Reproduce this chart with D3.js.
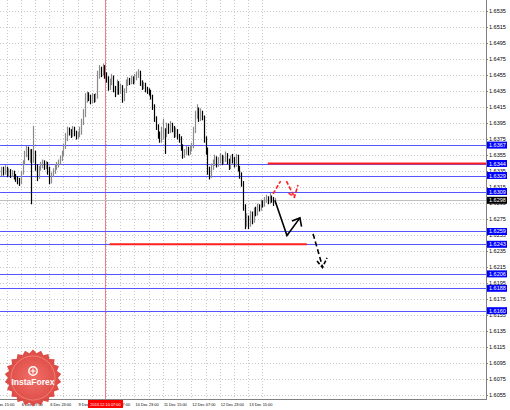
<!DOCTYPE html>
<html><head><meta charset="utf-8">
<script src="https://cdn.jsdelivr.net/npm/d3@7"></script>
<style>body{margin:0;background:#fff}svg{display:block}</style>
</head><body>
<script>
// ---- data (H1 bars) ----
const firstBarTime = "2013-12-05T20:00";
const closes = [1.6336,1.6333,1.6338,1.6331,1.6335,1.6330,1.6333,1.6328,1.6325,1.6322,
1.6320,1.6332,1.6345,1.6356,1.6362,1.6352,1.6358,1.6350,1.6357,1.6340,
1.6328,1.6338,1.6342,1.6345,1.6340,1.6343,1.6338,1.6322,1.6330,1.6334,
1.6340,1.6342,1.6345,1.6350,1.6356,1.6365,1.6375,1.6385,1.6384,1.6380,
1.6387,1.6382,1.6378,1.6380,1.6384,1.6395,1.6405,1.6425,1.6430,1.6426,
1.6422,1.6428,1.6424,1.6427,1.6455,1.6462,1.6458,1.6465,1.6455,1.6450,
1.6440,1.6446,1.6452,1.6438,1.6432,1.6445,1.6435,1.6440,1.6425,1.6435,
1.6445,1.6448,1.6446,1.6450,1.6447,1.6452,1.6455,1.6458,1.6445,1.6440,
1.6442,1.6437,1.6435,1.6433,1.6428,1.6415,1.6400,1.6390,1.6380,1.6375,
1.6378,1.6385,1.6380,1.6390,1.6385,1.6392,1.6388,1.6380,1.6385,1.6378,
1.6375,1.6365,1.6355,1.6358,1.6362,1.6358,1.6363,1.6366,1.6385,1.6405,
1.6410,1.6400,1.6408,1.6402,1.6375,1.6362,1.6335,1.6328,1.6340,1.6345,
1.6350,1.6343,1.6348,1.6352,1.6346,1.6350,1.6355,1.6347,1.6340,1.6350,
1.6348,1.6343,1.6352,1.6338,1.6330,1.6320,1.6290,1.6270,1.6275,1.6268,
1.6280,1.6272,1.6285,1.6282,1.6290,1.6288,1.6295,1.6292,1.6298,1.6300,
1.6296,1.6302,1.6299,1.6295,1.6298];
const highs = [1.6340,1.6340,1.6342,1.6340,1.6338,1.6337,1.6336,1.6335,1.6331,1.6328,
1.6326,1.6335,1.6348,1.6360,1.6366,1.6365,1.6362,1.6362,1.6391,1.6360,
1.6343,1.6341,1.6346,1.6349,1.6348,1.6347,1.6346,1.6340,1.6333,1.6338,
1.6343,1.6346,1.6349,1.6354,1.6360,1.6369,1.6382,1.6390,1.6389,1.6387,
1.6391,1.6390,1.6385,1.6384,1.6390,1.6400,1.6412,1.6432,1.6434,1.6433,
1.6430,1.6432,1.6431,1.6432,1.6460,1.6467,1.6465,1.6469,1.6467,1.6458,
1.6453,1.6450,1.6456,1.6454,1.6441,1.6449,1.6447,1.6444,1.6442,1.6438,
1.6449,1.6452,1.6451,1.6454,1.6453,1.6456,1.6459,1.6462,1.6460,1.6448,
1.6446,1.6445,1.6440,1.6438,1.6436,1.6430,1.6418,1.6403,1.6393,1.6384,
1.6390,1.6400,1.6388,1.6395,1.6394,1.6397,1.6395,1.6391,1.6389,1.6387,
1.6381,1.6378,1.6368,1.6362,1.6366,1.6365,1.6367,1.6370,1.6390,1.6410,
1.6418,1.6414,1.6413,1.6410,1.6404,1.6378,1.6364,1.6340,1.6344,1.6349,
1.6355,1.6353,1.6352,1.6357,1.6355,1.6354,1.6359,1.6357,1.6350,1.6354,
1.6356,1.6352,1.6356,1.6355,1.6341,1.6333,1.6322,1.6293,1.6282,1.6279,
1.6285,1.6284,1.6289,1.6290,1.6294,1.6293,1.6299,1.6298,1.6302,1.6305,
1.6303,1.6307,1.6304,1.6302,1.6301];
const lows = [1.6328,1.6329,1.6330,1.6327,1.6328,1.6326,1.6327,1.6324,1.6321,1.6318,
1.6316,1.6318,1.6330,1.6342,1.6352,1.6348,1.6345,1.6293,1.6345,1.6335,
1.6322,1.6325,1.6335,1.6338,1.6336,1.6337,1.6330,1.6318,1.6319,1.6327,
1.6331,1.6336,1.6339,1.6342,1.6347,1.6353,1.6362,1.6372,1.6379,1.6376,
1.6377,1.6378,1.6374,1.6375,1.6377,1.6380,1.6392,1.6402,1.6420,1.6422,
1.6418,1.6419,1.6420,1.6421,1.6425,1.6450,1.6452,1.6454,1.6450,1.6445,
1.6435,1.6436,1.6442,1.6433,1.6427,1.6430,1.6430,1.6431,1.6420,1.6422,
1.6432,1.6441,1.6442,1.6443,1.6443,1.6444,1.6448,1.6451,1.6441,1.6436,
1.6437,1.6433,1.6431,1.6429,1.6424,1.6411,1.6396,1.6386,1.6375,1.6370,
1.6370,1.6374,1.6356,1.6377,1.6381,1.6382,1.6383,1.6376,1.6377,1.6374,
1.6370,1.6360,1.6350,1.6351,1.6355,1.6354,1.6355,1.6359,1.6363,1.6382,
1.6400,1.6396,1.6397,1.6398,1.6370,1.6355,1.6330,1.6324,1.6326,1.6336,
1.6341,1.6339,1.6340,1.6344,1.6342,1.6343,1.6346,1.6343,1.6336,1.6337,
1.6344,1.6339,1.6340,1.6334,1.6325,1.6315,1.6285,1.6262,1.6265,1.6262,
1.6265,1.6268,1.6270,1.6278,1.6279,1.6284,1.6285,1.6289,1.6290,1.6295,
1.6293,1.6294,1.6295,1.6291,1.6293];
const firstOpen = 1.6332;

const priceTickLabels = ["1.6535","1.6515","1.6495","1.6475","1.6455","1.6435","1.6415","1.6395","1.6375","1.6355","1.6335","1.6315","1.6295","1.6275","1.6255","1.6235","1.6215","1.6195","1.6175","1.6155","1.6135","1.6115","1.6095","1.6075","1.6055"];
const timeTickLabels = ["5 Dec 15:00","6 Dec 07:00","6 Dec 23:00","9 Dec 15:00","10 Dec 07:00","10 Dec 23:00","11 Dec 15:00","12 Dec 07:00","12 Dec 23:00","13 Dec 15:00"];
const blueLevels = [1.6367,1.6344,1.6329,1.6309,1.6259,1.6243,1.6206,1.6188,1.6160];
const currentPrice = 1.6298;
const crosshairTime = "2013.12.10 07:00";
// red horizontal segments: [price, fromBar, toBar]
const redSegments = [[1.6344,150,null],[1.6243,61,172]];
// forecast arrows (bar index, price)
const blackPath = [[154,1.6298],[160.8,1.6254],[168.1,1.6276]];
const blackHead = [[163.6,1.6272],[168.1,1.6276],[169.0,1.6265]];
const redUp = [[153,1.6306],[157.2,1.6322]];
const redDown = [[160.5,1.6322],[165,1.6302]];
const redHead = [[161.7,1.6307],[165,1.6302],[167,1.6317]];
const blackDash = [[175.5,1.6256],[180.8,1.6215]];
const blackDashHead = [[177.7,1.6222],[180.8,1.6214],[183.3,1.6226]];

// ---- layout ----
const W=510,H=410, plotR=486, plotB=399;
const svg=d3.select("body").append("svg").attr("width",W).attr("height",H);
const x=d3.scaleLinear().domain([-0.68,272.8]).range([0,plotR]);
const y=d3.scaleLinear().domain([1.60496,1.65484]).range([plotB,0]);

// bar times (hourly, weekends skipped)
const start=new Date(firstBarTime);
function barTime(i){
  let t=new Date(start.getTime()); let n=0;
  if(i>=0){ while(n<i){ t=new Date(t.getTime()+3600e3); if(t.getDay()!==0&&t.getDay()!==6) n++; } }
  else { while(n>i){ t=new Date(t.getTime()-3600e3); if(t.getDay()!==0&&t.getDay()!==6) n--; } }
  return t;
}
const fmtLabel=t=>`${t.getDate()} Dec ${d3.timeFormat("%H:%M")(t)}`;
const fmtCross=d3.timeFormat("%Y.%m.%d %H:%M");
const barIdx=[]; for(let i=-10;i<=272;i++) barIdx.push(i);
const labelMap=new Map(barIdx.map(i=>[fmtLabel(barTime(i)),i]));
const crossMap=new Map(barIdx.map(i=>[fmtCross(barTime(i)),i]));
const labelBars=timeTickLabels.map(l=>labelMap.get(l));
const gridBars=[]; labelBars.forEach(b=>{gridBars.push(b); gridBars.push(b+8);});

const g=svg.append("g");
// grid
g.selectAll(".vg").data(gridBars).join("line")
 .attr("x1",d=>Math.round(x(d))+0.5).attr("x2",d=>Math.round(x(d))+0.5)
 .attr("y1",0).attr("y2",plotB).attr("stroke","#c8c8c8").attr("stroke-dasharray","1,2");
g.selectAll(".hg").data(priceTickLabels).join("line")
 .attr("x1",0).attr("x2",plotR).attr("y1",d=>Math.round(y(+d))+0.5).attr("y2",d=>Math.round(y(+d))+0.5)
 .attr("stroke","#c8c8c8").attr("stroke-dasharray","1,2");

// crosshair vertical
const cb=crossMap.get(crosshairTime);
g.append("line").attr("x1",Math.round(x(cb))-0.5).attr("x2",Math.round(x(cb))-0.5).attr("y1",0).attr("y2",plotB)
 .attr("stroke","#f08080").attr("stroke-width",1);

// current price line
g.append("line").attr("x1",0).attr("x2",plotR).attr("y1",Math.round(y(currentPrice))+0.5).attr("y2",Math.round(y(currentPrice))+0.5)
 .attr("stroke","#c0c0c0");

// blue levels
g.selectAll(".bl").data(blueLevels).join("line")
 .attr("x1",0).attr("x2",plotR).attr("y1",d=>Math.round(y(d))+0.5).attr("y2",d=>Math.round(y(d))+0.5)
 .attr("stroke","#5555ff").attr("stroke-width",1);

// red segments
g.selectAll(".rs").data(redSegments).join("line")
 .attr("x1",d=>x(d[1])).attr("x2",d=>d[2]==null?plotR:x(d[2]))
 .attr("y1",d=>y(d[0])).attr("y2",d=>y(d[0]))
 .attr("stroke","#ff2020").attr("stroke-width",2);

// bars
const bars=closes.map((c,i)=>({i,c,o:i?closes[i-1]:firstOpen,h:highs[i],l:lows[i]}));
g.selectAll(".bar").data(bars).join("line")
 .attr("x1",d=>Math.round(x(d.i))+0.5).attr("x2",d=>Math.round(x(d.i))+0.5)
 .attr("y1",d=>y(d.h)).attr("y2",d=>y(d.l))
 .attr("stroke",d=>d.c>=d.o?"#8a8a8a":"#000").attr("stroke-width",1.2);

// arrows
const line=d3.line().x(d=>x(d[0])).y(d=>y(d[1]));
const arrows=[
 [blackPath,"#000",null],[blackHead,"#000",null],
 [redUp,"#ff2020","4,2"],[redDown,"#ff2020","4,2"],[redHead,"#ff2020","4,2"],
 [blackDash,"#000","5,3"],[blackDashHead,"#000","4,2"]];
arrows.forEach(([pts,col,dash])=>{
  g.append("path").attr("d",line(pts)).attr("fill","none").attr("stroke",col)
   .attr("stroke-width",1.6).attr("stroke-dasharray",dash);
});

// frame
svg.append("line").attr("x1",plotR+0.5).attr("x2",plotR+0.5).attr("y1",0).attr("y2",plotB+1).attr("stroke","#808080");
svg.append("line").attr("x1",0).attr("x2",plotR+1).attr("y1",plotB+0.5).attr("y2",plotB+0.5).attr("stroke","#808080");

// price labels
const fnt="Liberation Sans, Arial, sans-serif";
svg.selectAll(".pl").data(priceTickLabels).join("text")
 .attr("x",plotR+3).attr("y",d=>y(+d)+2).attr("font-family",fnt).attr("font-size",5.5).attr("fill","#000").text(d=>d);
svg.selectAll(".pt").data(priceTickLabels).join("line")
 .attr("x1",plotR).attr("x2",plotR+2).attr("y1",d=>Math.round(y(+d))+0.5).attr("y2",d=>Math.round(y(+d))+0.5).attr("stroke","#808080");

// level boxes
function box(p,fill){
  const gy=y(p);
  svg.append("rect").attr("x",plotR+1).attr("y",gy-3.5).attr("width",20).attr("height",7).attr("fill",fill);
  svg.append("text").attr("x",plotR+3).attr("y",gy+2).attr("font-family",fnt).attr("font-size",5.5).attr("fill","#fff").text(p.toFixed(4));
}
blueLevels.forEach(p=>box(p,"#0000ff"));
box(currentPrice,"#000");

// time labels
svg.selectAll(".tl").data(timeTickLabels).join("text")
 .attr("x",(d,k)=>x(labelBars[k])+1).attr("y",plotB+7).attr("font-family",fnt).attr("font-size",3.9).attr("fill","#000").text(d=>d);
// crosshair time box
const cx=Math.round(x(cb))-0.5;
svg.append("rect").attr("x",cx-17.5).attr("y",plotB+1).attr("width",35).attr("height",8).attr("fill","#ff0000");
svg.append("text").attr("x",cx).attr("y",plotB+7).attr("text-anchor","middle").attr("font-family",fnt).attr("font-size",3.9).attr("fill","#fff").text(crosshairTime);

// InstaForex badge
const lg=svg.append("g").attr("transform","translate(33,378)");
const star=[]; const N=22;
for(let k=0;k<N*2;k++){const r=k%2?25:28.5; const a=Math.PI*k/N; star.push([r*Math.sin(a),-r*Math.cos(a)]);}
const grad=svg.append("defs").append("radialGradient").attr("id","rg");
grad.append("stop").attr("offset","0%").attr("stop-color","#f0625a");
grad.append("stop").attr("offset","100%").attr("stop-color","#d93a34");
lg.append("path").attr("d",d3.line()(star)+"Z").attr("fill","url(#rg)").attr("opacity",0.92);
lg.append("circle").attr("r",22).attr("fill","none").attr("stroke","#f58a84").attr("stroke-width",0.8);
const emb=lg.append("g").attr("transform","translate(0,-7)");
emb.append("circle").attr("r",4.2).attr("fill","none").attr("stroke","#fff").attr("stroke-width",1.4);
emb.append("path").attr("d","M0,-2.5 L0,2.5 M-2.5,0 L2.5,0").attr("stroke","#fff").attr("stroke-width",1.2);
lg.append("text").attr("y",7).attr("text-anchor","middle").attr("font-family","Liberation Sans, Arial, sans-serif")
 .attr("font-size",8.5).attr("font-weight","bold").attr("fill","#fff").text("InstaForex");
</script>
</body></html>
